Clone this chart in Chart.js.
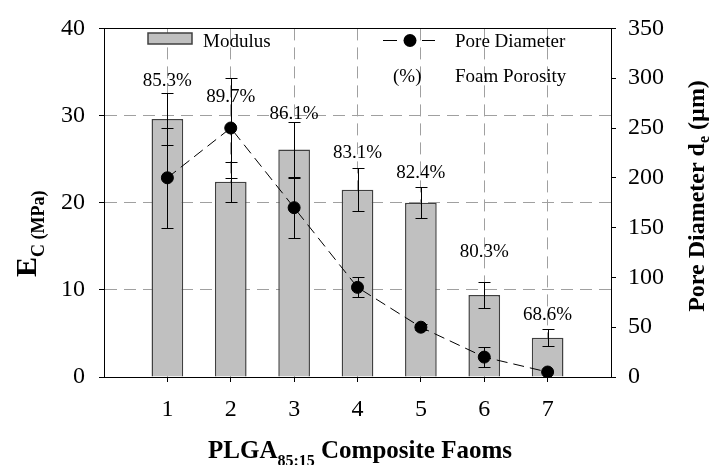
<!DOCTYPE html>
<html>
<head>
<meta charset="utf-8">
<script src="https://cdn.jsdelivr.net/npm/chart.js@4/dist/chart.umd.min.js"></script>
<style>
  html, body { margin: 0; padding: 0; background: #fff; }
  canvas { display: block; }
</style>
</head>
<body>
<canvas id="canvas" width="711" height="465"></canvas>
<script>
const foams = [1, 2, 3, 4, 5, 6, 7]
const modulus = [29.6, 22.4, 26.1, 21.5, 20.0, 9.4, 4.5]
const modulusErr = [3.0, 2.3, 3.2, 2.5, 1.8, 1.5, 1.0]
const poreDiameter = [200, 250, 170, 90, 50, 20, 5]
const poreErr = [50, 50, 30, 10, 3, 10, 0]
const porosity = ['85.3%', '89.7%', '86.1%', '83.1%', '82.4%', '80.3%', '68.6%']
// height of each porosity note, read in MPa off the left axis
const porosityAt = [34.0, 32.1, 30.2, 25.7, 23.4, 14.3, 7.1]
const modulusTicks = [0, 10, 20, 30, 40]
const poreTicks = [0, 50, 100, 150, 200, 250, 300, 350]

const serif = '"Liberation Serif", "Times New Roman", serif'
const gridGray = '#a0a0a0'

// pieces of rich text (subscripts) drawn one after another
const richText = (ctx, parts, x0, y0) => {
  let x = x0
  parts.forEach(p => {
    ctx.font = 'bold ' + p.size + 'px ' + serif
    ctx.fillText(p.t, x, y0 + (p.dy || 0))
    x += ctx.measureText(p.t).width
  })
}
const richWidth = (ctx, parts) => parts.reduce((w, p) => {
  ctx.font = 'bold ' + p.size + 'px ' + serif
  return w + ctx.measureText(p.t).width
}, 0)

const extras = {
  id: 'extras',
  afterDatasetsDraw(chart) {
    const { ctx, chartArea: a, scales: { x, y, y2 } } = chart
    ctx.save()
    ctx.strokeStyle = '#000'
    ctx.lineWidth = 1
    const whisker = (px, lo, hi) => {
      ctx.beginPath()
      ctx.moveTo(px, lo); ctx.lineTo(px, hi)
      ctx.moveTo(px - 6, lo); ctx.lineTo(px + 6, lo)
      ctx.moveTo(px - 6, hi); ctx.lineTo(px + 6, hi)
      ctx.stroke()
    }
    foams.forEach((f, i) => {
      const px = Math.round(x.getPixelForValue(f)) + 0.5
      whisker(px, Math.round(y.getPixelForValue(modulus[i] - modulusErr[i])) + 0.5,
        Math.round(y.getPixelForValue(modulus[i] + modulusErr[i])) + 0.5)
      if (poreErr[i]) {
        whisker(px, Math.round(y2.getPixelForValue(poreDiameter[i] - poreErr[i])) + 0.5,
          Math.round(y2.getPixelForValue(poreDiameter[i] + poreErr[i])) + 0.5)
      }
    })

    ctx.fillStyle = '#000'
    ctx.font = '19px ' + serif
    ctx.textAlign = 'center'
    ctx.textBaseline = 'middle'
    foams.forEach((f, i) => {
      ctx.fillText(porosity[i], x.getPixelForValue(f), y.getPixelForValue(porosityAt[i]))
    })

    // top edge of the frame
    ctx.beginPath()
    ctx.moveTo(a.left, Math.round(a.top) + 0.5)
    ctx.lineTo(a.right, Math.round(a.top) + 0.5)
    ctx.stroke()
    ctx.restore()
  },
  afterDraw(chart) {
    const ctx = chart.ctx
    ctx.save()
    ctx.fillStyle = '#000'
    ctx.textAlign = 'left'
    ctx.textBaseline = 'alphabetic'

    // legend
    ctx.fillStyle = '#c0c0c0'
    ctx.fillRect(148, 33, 44, 11)
    ctx.strokeStyle = '#404040'
    ctx.lineWidth = 1.5
    ctx.strokeRect(148, 33, 44, 11)
    ctx.fillStyle = '#000'
    ctx.font = '19px ' + serif
    ctx.fillText('Modulus', 203, 47)
    ctx.strokeStyle = '#000'
    ctx.lineWidth = 1
    ctx.beginPath()
    ctx.moveTo(383, 40.5); ctx.lineTo(397, 40.5)
    ctx.moveTo(422, 40.5); ctx.lineTo(435, 40.5)
    ctx.stroke()
    ctx.beginPath()
    ctx.arc(410, 40.5, 6.5, 0, Math.PI * 2)
    ctx.fill()
    ctx.fillText('Pore Diameter', 455, 47)
    ctx.fillText('(%)', 393, 82)
    ctx.fillText('Foam Porosity', 455, 82)

    // x title
    const xt = [{ t: 'PLGA', size: 25 }, { t: '85:15', size: 16, dy: 8 }, { t: ' Composite Faoms', size: 25 }]
    richText(ctx, xt, 360 - richWidth(ctx, xt) / 2, 458)

    // left title
    ctx.save()
    ctx.translate(36, 277)
    ctx.rotate(-Math.PI / 2)
    richText(ctx, [{ t: 'E', size: 30 }, { t: 'C', size: 18, dy: 8 }, { t: ' (MPa)', size: 18, dy: 8 }], 0, 0)
    ctx.restore()

    // right title
    const rt = [{ t: 'Pore Diameter d', size: 24 }, { t: 'e', size: 16, dy: 5 }, { t: ' (\u00b5m)', size: 24 }]
    ctx.save()
    ctx.translate(704, 196)
    ctx.rotate(-Math.PI / 2)
    richText(ctx, rt, -richWidth(ctx, rt) / 2, 0)
    ctx.restore()

    ctx.restore()
  }
}

const tickFont = { family: serif, size: 24 }

new Chart(document.getElementById('canvas'), {
  type: 'bar',
  data: {
    datasets: [
      {
        type: 'line',
        label: 'Pore Diameter',
        data: foams.map((f, i) => ({ x: f, y: poreDiameter[i] })),
        yAxisID: 'y2',
        borderColor: '#000',
        borderWidth: 1,
        borderDash: [11, 6],
        pointRadius: 6,
        pointBackgroundColor: '#000',
        pointBorderColor: '#000',
        order: 1
      },
      {
        label: 'Modulus',
        data: foams.map((f, i) => ({ x: f, y: modulus[i] })),
        yAxisID: 'y',
        backgroundColor: '#c0c0c0',
        borderColor: '#404040',
        borderWidth: 1.5,
        barPercentage: 0.5,
        categoryPercentage: 1,
        order: 2
      }
    ]
  },
  options: {
    responsive: false,
    animation: false,
    devicePixelRatio: 1,
    layout: { padding: { top: 22, left: 0, right: 0, bottom: 0 } },
    plugins: { legend: { display: false }, tooltip: { enabled: false } },
    scales: {
      x: {
        type: 'linear',
        min: 0,
        max: 8,
        offset: false,
        afterBuildTicks: s => { s.ticks = foams.map(v => ({ value: v })) },
        afterFit: s => { s.height = 88 },
        grid: { offset: false, color: gridGray, tickColor: '#000', tickLength: 5 },
        border: { color: '#000', width: 1, dash: [12, 7] },
        ticks: { color: '#000', font: tickFont, padding: 13, maxRotation: 0, callback: v => String(v) }
      },
      y: {
        position: 'left',
        min: 0,
        max: 40,
        afterBuildTicks: s => { s.ticks = modulusTicks.map(v => ({ value: v })) },
        afterFit: s => { s.width = 104 },
        grid: {
          color: c => (c.tick && (c.tick.value === 0 || c.tick.value === 40)) ? 'rgba(0,0,0,0)' : gridGray,
          tickColor: '#000',
          tickLength: 5
        },
        border: { color: '#000', width: 1, dash: [12, 7] },
        ticks: { color: '#000', font: tickFont, padding: 14 }
      },
      y2: {
        position: 'right',
        min: 0,
        max: 350,
        afterBuildTicks: s => { s.ticks = poreTicks.map(v => ({ value: v })) },
        afterFit: s => { s.width = 100 },
        grid: { drawOnChartArea: false, tickColor: '#000', tickLength: 5 },
        border: { color: '#000', width: 1 },
        ticks: { color: '#000', font: tickFont, padding: 12 }
      }
    }
  },
  plugins: [extras]
})
</script>
</body>
</html>
